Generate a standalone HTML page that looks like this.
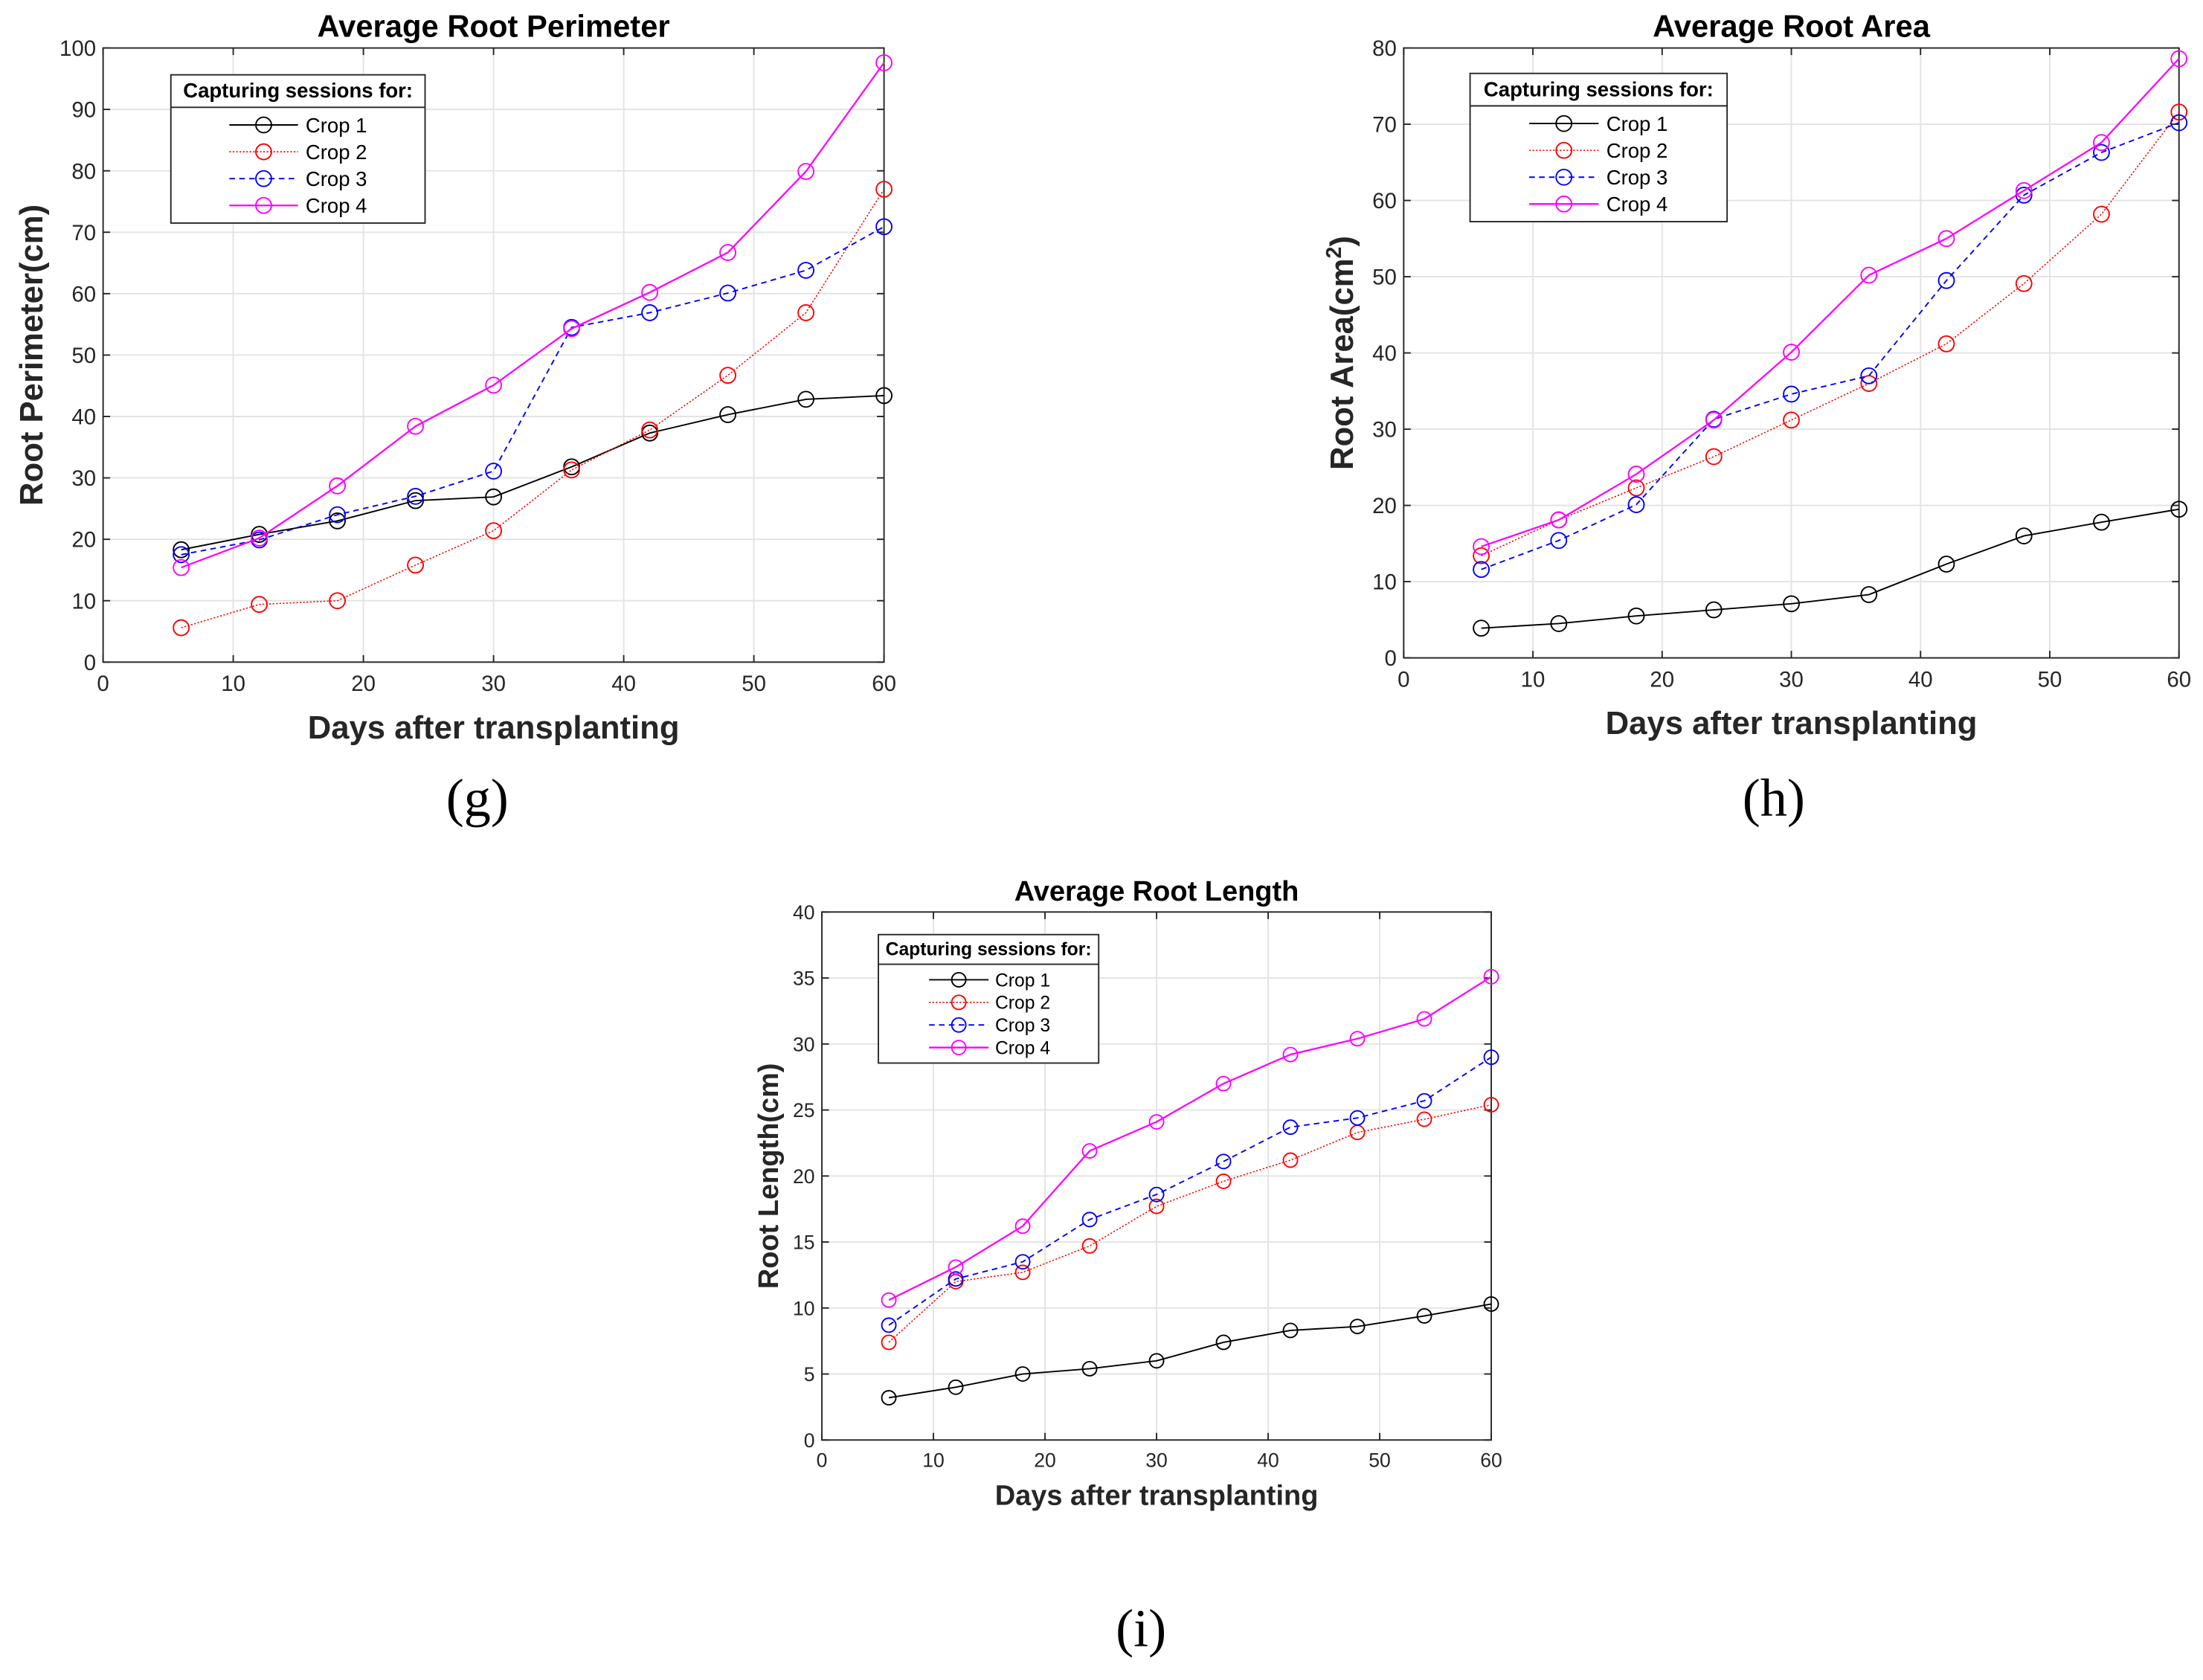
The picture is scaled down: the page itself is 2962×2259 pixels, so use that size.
<!DOCTYPE html>
<html><head><meta charset="utf-8"><style>
html,body{margin:0;padding:0;background:#fff}
svg{display:block}
</style></head><body>
<svg id="fig" width="2962" height="2259" viewBox="0 0 1560 1190" preserveAspectRatio="none" xmlns="http://www.w3.org/2000/svg" font-family="Liberation Sans, sans-serif"></svg>
<script>
const days = [6,12,18,24,30,36,42,48,54,60];
const xTicks = [0,10,20,30,40,50,60];
const seriesNames = ["Crop 1","Crop 2","Crop 3","Crop 4"];
const perimC1 = [18.3,20.8,23,26.3,26.9,31.8,37.3,40.3,42.8,43.4];
const perimC2 = [5.6,9.4,10,15.8,21.4,31.3,37.8,46.7,56.9,77];
const perimC3 = [17.5,19.9,24,27,31.1,54.5,56.9,60.1,63.8,70.9];
const perimC4 = [15.4,20.2,28.7,38.4,45.1,54.3,60.2,66.7,79.9,97.6];
const perimYTicks = [0,10,20,30,40,50,60,70,80,90,100];
const areaC1 = [3.9,4.5,5.5,6.3,7.1,8.3,12.3,16,17.8,19.5];
const areaC2 = [13.4,18.1,22.3,26.4,31.2,36,41.2,49.1,58.2,71.6];
const areaC3 = [11.6,15.4,20.1,31.3,34.6,37,49.5,60.7,66.3,70.2];
const areaC4 = [14.6,18.1,24.1,31.2,40.1,50.2,55,61.3,67.6,78.6];
const areaYTicks = [0,10,20,30,40,50,60,70,80];
const lenC1 = [3.2,4.0,5.0,5.4,6.0,7.4,8.3,8.6,9.4,10.3];
const lenC2 = [7.4,12.0,12.7,14.7,17.7,19.6,21.2,23.3,24.3,25.4];
const lenC3 = [8.7,12.2,13.5,16.7,18.6,21.1,23.7,24.4,25.7,29.0];
const lenC4 = [10.6,13.1,16.2,21.9,24.1,27.0,29.2,30.4,31.9,35.1];
const lenYTicks = [0,5,10,15,20,25,30,35,40];

const NS="http://www.w3.org/2000/svg";
const svg=document.getElementById('fig');
function mk(tag,attrs,parent,txt){const e=document.createElementNS(NS,tag);for(const k in attrs)e.setAttribute(k,attrs[k]);if(txt!==undefined)e.textContent=txt;(parent||svg).appendChild(e);return e;}
const styles=[{c:"#000",w:1,d:""},{c:"#ff0000",w:0.8,d:"1.2,1.2"},{c:"#0000ff",w:1,d:"4,3"},{c:"#ff00ff",w:1.2,d:""}];

function chart(o){
  const g=mk('g',{});
  
  
  const X=v=>o.L+(v-0)/(60)*(o.R-o.L);
  const Y=v=>o.B-(v-0)/(o.ymax)*(o.B-o.T);
  xTicks.forEach(t=>{const l=mk('line',{x1:X(t),x2:X(t),y1:o.T,y2:o.B,stroke:'#e3e3e3','stroke-width':1},g);});
  o.yt.forEach(t=>{const l=mk('line',{x1:o.L,x2:o.R,y1:Y(t),y2:Y(t),stroke:'#e3e3e3','stroke-width':1},g);});
  const fr=mk('rect',{x:o.L,y:o.T,width:o.R-o.L,height:o.B-o.T,fill:'none',stroke:'#262626','stroke-width':1},g);
  
  xTicks.forEach(t=>{mk('line',{x1:X(t),x2:X(t),y1:o.B,y2:o.B-5,stroke:'#262626'},g);mk('line',{x1:X(t),x2:X(t),y1:o.T,y2:o.T+5,stroke:'#262626'},g);
    const tx=mk('text',{x:X(t),y:o.B+o.fs+5,'text-anchor':'middle','font-size':o.fs,fill:'#262626'},g,String(t));});
  o.yt.forEach(t=>{mk('line',{x1:o.L,x2:o.L+5,y1:Y(t),y2:Y(t),stroke:'#262626'},g);mk('line',{x1:o.R,x2:o.R-5,y1:Y(t),y2:Y(t),stroke:'#262626'},g);
    const tx=mk('text',{x:o.L-5,y:Y(t)+o.fs*0.36,'text-anchor':'end','font-size':o.fs,fill:'#262626'},g,String(t));});
  o.series.forEach((s,i)=>{const st=styles[i];
    const pl=mk('polyline',{points:s.map((v,j)=>X(days[j])+','+Y(v)).join(' '),fill:'none',stroke:st.c,'stroke-width':st.w,'stroke-dasharray':st.d},g);
    
    s.forEach((v,j)=>{const c=mk('circle',{cx:X(days[j]),cy:Y(v),r:o.mr,fill:'none',stroke:st.c,'stroke-width':1},g);});
  });
  const cx=(o.L+o.R)/2;
  const ti=mk('text',{x:cx,y:o.T-8,'text-anchor':'middle','font-size':o.tfs,'font-weight':'bold'},g,o.title);
  const xl=mk('text',{x:cx,y:o.xly,'text-anchor':'middle','font-size':o.lfs,'font-weight':'bold',fill:'#262626'},g,'Days after transplanting');
  const yl=mk('text',{x:0,y:0,'text-anchor':'middle','font-size':o.lfs,'font-weight':'bold',fill:'#262626',transform:`translate(${o.ylx},${(o.T+o.B)/2}) rotate(-90)`},g);
  
  if(o.sup){mk('tspan',{},yl,o.ylabel);mk('tspan',{'baseline-shift':'super','font-size':o.lfs*0.65},yl,'2');mk('tspan',{},yl,')');}else yl.textContent=o.ylabel;
  const cap=mk('text',{x:o.capx,y:o.capy,'text-anchor':'middle','font-size':o.capfs,style:'font-family:"Liberation Serif",serif'},g,o.cap);
  
  const lg=mk('g',{},g);
  const lx=o.leg[0],ly=o.leg[1],lw=o.leg[2],lh=o.leg[3],hh=o.leg[4];
  mk('rect',{x:lx,y:ly,width:lw,height:lh,fill:'#fff',stroke:'#262626','stroke-width':1},lg);
  mk('line',{x1:lx,x2:lx+lw,y1:ly+hh,y2:ly+hh,stroke:'#262626'},lg);
  const lt=mk('text',{x:lx+lw/2,y:ly+hh*0.7,'text-anchor':'middle','font-size':o.legfs,'font-weight':'bold'},lg,'Capturing sessions for:');
  const rs=(lh-hh-6)/4;
  seriesNames.forEach((n,i)=>{const st=styles[i];const yy=ly+hh+3+rs*(i+0.5);
    const e=mk('g',{},lg);
    mk('line',{x1:lx+lw*0.23,x2:lx+lw*0.5,y1:yy,y2:yy,stroke:st.c,'stroke-width':st.w,'stroke-dasharray':st.d},e);
    mk('circle',{cx:lx+lw*0.365,cy:yy,r:o.mr,fill:'none',stroke:st.c},e);
    mk('text',{x:lx+lw*0.53,y:yy+o.legfs*0.36,'font-size':o.legfs},e,n);
  });
}
chart({name:'perimeter-chart',L:73,R:626,T:34,B:469,ymax:100,yt:perimYTicks,series:[perimC1,perimC2,perimC3,perimC4],mr:5.5,fs:15.5,tfs:22,lfs:23,legfs:14.5,
  title:'Average Root Perimeter',ylabel:'Root Perimeter(cm)',ylx:30,xly:523,cap:'(g)',capx:338,capy:578,capfs:38,leg:[121,53,180,105,23]});
chart({name:'area-chart',L:994,R:1543,T:34,B:466,ymax:80,yt:areaYTicks,series:[areaC1,areaC2,areaC3,areaC4],mr:5.5,fs:15.5,tfs:22,lfs:23,legfs:14.5,
  title:'Average Root Area',ylabel:'Root Area(cm',sup:true,ylx:958,xly:520,cap:'(h)',capx:1256,capy:578,capfs:38,leg:[1041,52,182,105,23]});
chart({name:'length-chart',L:582,R:1056,T:646,B:1020,ymax:40,yt:lenYTicks,series:[lenC1,lenC2,lenC3,lenC4],mr:5,fs:14,tfs:20,lfs:20,legfs:13,
  title:'Average Root Length',ylabel:'Root Length(cm)',ylx:551,xly:1066,cap:'(i)',capx:808,capy:1166,capfs:38,leg:[622,662,156,91,21]});
</script>
</body></html>
